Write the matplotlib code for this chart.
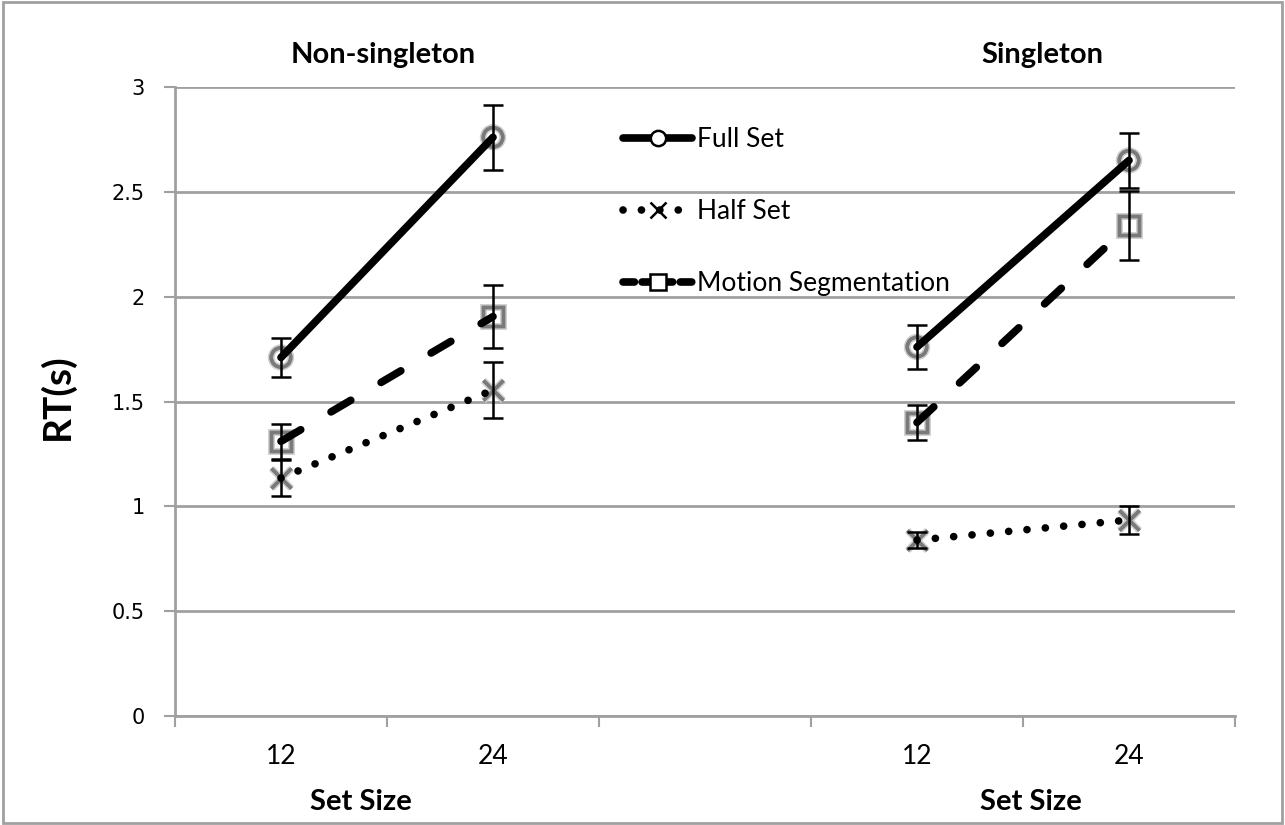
import matplotlib
matplotlib.use("Agg")
import matplotlib.pyplot as plt
import matplotlib.patheffects as pe
from matplotlib.lines import Line2D
from matplotlib.patches import Rectangle
import numpy as np

# slots on the x axis: two groups of set sizes with an empty slot between
slot_labels = ["12", "24", "", "12", "24"]
group_slots = [[0, 1], [3, 4]]
group_titles = ["Non-singleton", "Singleton"]

# RT (s) per group: [set size 12, set size 24]
full_mean = [[1.71, 2.76], [1.76, 2.65]]
full_err = [[0.095, 0.155], [0.105, 0.13]]
half_mean = [[1.135, 1.555], [0.839, 0.935]]
half_err = [[0.085, 0.135], [0.04, 0.065]]
motion_mean = [[1.31, 1.905], [1.40, 2.34]]
motion_err = [[0.085, 0.15], [0.085, 0.165]]

series_names = ["Full Set", "Half Set", "Motion Segmentation"]

W, H = 1285, 825
fig = plt.figure(figsize=(W / 100, H / 100), dpi=100)
ax = fig.add_axes([175 / W, 1 - 716 / H, (1235 - 175) / W, (716 - 87) / H])

grid_col = "#a0a0a0"
lw = 5.5
glow = [pe.withStroke(linewidth=5, foreground="#d0d0d0"), pe.Normal()]

styles = [
    dict(mean=full_mean, err=full_err, marker="o", ls="-", dashes=None),
    dict(mean=half_mean, err=half_err, marker="x", ls=":", dashes=(0.01, 2.4)),
    dict(mean=motion_mean, err=motion_err, marker="s", ls="--", dashes=(3.0, 4.6)),
]

for st in styles:
    for g, xs in enumerate(group_slots):
        m = st["mean"][g]
        e = st["err"][g]
        # gray open markers with soft edges
        ax.plot(xs, m, linestyle="none", marker=st["marker"], markersize=14,
                markerfacecolor="none", markeredgecolor="#7a7a7a",
                markeredgewidth=2.5, path_effects=glow, zorder=3)
        ax.errorbar(xs, m, yerr=e, fmt="none", ecolor="black", elinewidth=1.8,
                    capsize=7, capthick=1.8, zorder=4)
        line, = ax.plot(xs, m, color="black", linewidth=lw, zorder=5,
                        solid_capstyle="round", dash_capstyle="round")
        if st["dashes"] is not None:
            line.set_dashes(st["dashes"])

ax.set_xlim(-0.5, 4.5)
ax.set_ylim(0, 3)
ax.set_yticks(np.arange(0, 3.01, 0.5))
ax.set_yticklabels(["0", "0.5", "1", "1.5", "2", "2.5", "3"])
ax.yaxis.grid(True, color=grid_col, linewidth=2)
ax.set_axisbelow(True)

ax.set_xticks(range(len(slot_labels)))
ax.set_xticklabels(slot_labels, fontsize=19, family="Lato")
ax.set_xticks(np.arange(-0.5, 4.6, 1), minor=True)
ax.tick_params(axis="x", which="major", length=0, pad=20)
ax.tick_params(axis="x", which="minor", length=8, width=1.5, color=grid_col,
               direction="out")
ax.tick_params(axis="y", length=8, width=1.5, color=grid_col, pad=14,
               labelsize=15)

for s in ["top", "right"]:
    ax.spines[s].set_visible(False)
for s in ["left", "bottom"]:
    ax.spines[s].set_color(grid_col)
    ax.spines[s].set_linewidth(2)

# group titles and axis labels
title_font = dict(fontsize=21, fontweight="bold", family="Lato",
                  ha="center", va="center")
fig.text(383 / W, 1 - 55 / H, group_titles[0], **title_font)
fig.text(1042 / W, 1 - 55 / H, group_titles[1], **title_font)
fig.text(361 / W, 1 - 802 / H, "Set Size", **title_font)
fig.text(1031 / W, 1 - 802 / H, "Set Size", **title_font)
fig.text(57 / W, 1 - 397 / H, "RT(s)", ha="center", va="center",
         rotation=90, fontsize=28, fontweight="bold", family="Lato")

# legend
handles = []
for st, name in zip(styles, series_names):
    h = Line2D([0], [0], color="black", linewidth=lw, marker=st["marker"],
               markersize=11, markerfacecolor="white", markeredgecolor="black",
               markeredgewidth=1.8, solid_capstyle="round",
               dash_capstyle="round")
    if st["dashes"] is not None:
        h.set_dashes(st["dashes"] if st["ls"] == ":" else (1.5, 1.0))
    handles.append(h)
leg = ax.legend(handles, series_names, loc="upper left",
                bbox_to_anchor=(610 / W, 1 - 114 / H),
                bbox_transform=fig.transFigure, frameon=False,
                handlelength=2.6, handletextpad=0.2, labelspacing=1.78,
                borderpad=0, prop={"family": "Lato", "size": 19})

# thin gray frame around the whole figure
fig.patches.append(Rectangle((0.002, 0.002), 0.996, 0.995,
                             transform=fig.transFigure, fill=False,
                             edgecolor="#a0a0a0", linewidth=2))

fig.savefig("out.png", dpi=100)
